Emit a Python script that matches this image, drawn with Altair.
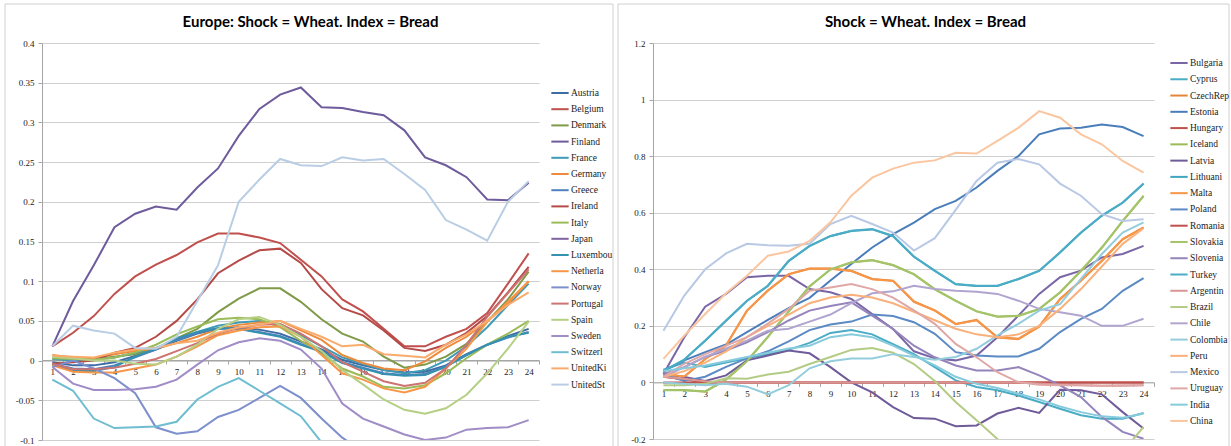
import altair as alt
import pandas as pd

periods = list(range(1, 25))

# ---- Europe: Shock = Wheat. Index = Bread ----
austria = [-0.002, -0.006, -0.006, -0.002, 0.006, 0.014, 0.025, 0.034, 0.040, 0.042, 0.039, 0.034, 0.024, 0.014, 0.001, -0.006, -0.012, -0.015, -0.014, -0.006, 0.008, 0.020, 0.031, 0.040]
belgium = [0.018, 0.035, 0.056, 0.084, 0.106, 0.121, 0.133, 0.149, 0.160, 0.160, 0.155, 0.148, 0.127, 0.106, 0.077, 0.062, 0.040, 0.018, 0.018, 0.030, 0.040, 0.060, 0.097, 0.135]
denmark = [0.003, 0.000, 0.002, 0.005, 0.008, 0.015, 0.028, 0.040, 0.061, 0.078, 0.091, 0.091, 0.074, 0.052, 0.034, 0.024, 0.005, -0.009, -0.005, 0.005, 0.021, 0.049, 0.077, 0.112]
finland = [0.018, 0.075, 0.120, 0.168, 0.185, 0.194, 0.190, 0.218, 0.242, 0.283, 0.317, 0.335, 0.344, 0.319, 0.318, 0.313, 0.309, 0.290, 0.256, 0.246, 0.231, 0.203, 0.202, 0.224]
france = [0.002, 0.000, 0.001, 0.004, 0.010, 0.016, 0.026, 0.036, 0.044, 0.048, 0.050, 0.046, 0.032, 0.018, 0.004, -0.004, -0.012, -0.016, -0.012, 0.000, 0.018, 0.042, 0.070, 0.097]
germany = [0.007, 0.004, 0.003, 0.008, 0.012, 0.015, 0.022, 0.030, 0.040, 0.045, 0.048, 0.050, 0.038, 0.026, 0.007, -0.003, -0.010, -0.012, -0.001, 0.016, 0.030, 0.050, 0.072, 0.100]
greece = [-0.004, -0.010, -0.011, -0.006, 0.004, 0.014, 0.026, 0.035, 0.040, 0.040, 0.036, 0.031, 0.021, 0.012, -0.002, -0.009, -0.016, -0.018, -0.017, -0.007, 0.007, 0.020, 0.029, 0.036]
ireland = [-0.004, -0.002, 0.000, 0.010, 0.016, 0.030, 0.050, 0.077, 0.110, 0.126, 0.139, 0.141, 0.123, 0.090, 0.066, 0.057, 0.038, 0.016, 0.012, 0.020, 0.035, 0.056, 0.086, 0.118]
italy = [0.003, 0.002, 0.001, 0.004, 0.010, 0.020, 0.033, 0.043, 0.052, 0.054, 0.052, 0.042, 0.025, 0.009, -0.010, -0.020, -0.033, -0.035, -0.031, -0.016, 0.003, 0.020, 0.034, 0.050]
japan = [-0.110, -0.120, -0.130, -0.140, -0.150, -0.160, -0.170, -0.180, -0.180, -0.180, -0.170, -0.170, -0.160, -0.160, -0.160, -0.150, -0.150, -0.150, -0.140, -0.140, -0.140, -0.130, -0.130, -0.130]
luxembou = [-0.005, -0.013, -0.013, -0.008, 0.005, 0.015, 0.028, 0.036, 0.041, 0.040, 0.035, 0.030, 0.020, 0.011, -0.003, -0.010, -0.017, -0.019, -0.018, -0.008, 0.007, 0.020, 0.030, 0.035]
netherla = [-0.006, -0.014, -0.015, -0.015, -0.010, -0.005, 0.005, 0.018, 0.032, 0.038, 0.042, 0.043, 0.030, 0.007, -0.016, -0.024, -0.035, -0.040, -0.033, -0.010, 0.015, 0.049, 0.074, 0.100]
norway = [-0.008, 0.000, -0.010, -0.022, -0.041, -0.084, -0.092, -0.089, -0.071, -0.062, -0.047, -0.032, -0.047, -0.073, -0.097, -0.115, -0.130, -0.140, -0.150, -0.150, -0.145, -0.140, -0.135, -0.130]
portugal = [-0.004, -0.011, -0.011, -0.009, -0.004, 0.002, 0.012, 0.022, 0.034, 0.041, 0.045, 0.046, 0.034, 0.018, -0.002, -0.014, -0.026, -0.032, -0.028, -0.010, 0.020, 0.055, 0.085, 0.115]
spain = [0.005, 0.003, 0.000, 0.000, -0.004, -0.005, 0.005, 0.020, 0.040, 0.052, 0.055, 0.045, 0.030, 0.012, -0.012, -0.030, -0.049, -0.062, -0.067, -0.060, -0.043, -0.016, 0.015, 0.049]
sweden = [-0.008, -0.029, -0.037, -0.037, -0.036, -0.033, -0.024, -0.005, 0.013, 0.023, 0.028, 0.025, 0.014, -0.010, -0.054, -0.073, -0.083, -0.093, -0.100, -0.097, -0.087, -0.085, -0.084, -0.075]
switzerl = [-0.024, -0.038, -0.073, -0.085, -0.084, -0.083, -0.077, -0.049, -0.033, -0.022, -0.038, -0.054, -0.070, -0.103, -0.130, -0.150, -0.160, -0.170, -0.170, -0.165, -0.160, -0.155, -0.150, -0.145]
unitedki = [0.006, 0.005, 0.004, 0.010, 0.014, 0.016, 0.022, 0.025, 0.035, 0.042, 0.045, 0.050, 0.040, 0.030, 0.018, 0.020, 0.008, 0.006, 0.004, 0.020, 0.033, 0.050, 0.070, 0.086]
unitedst = [0.018, 0.044, 0.038, 0.034, 0.016, 0.015, 0.030, 0.075, 0.120, 0.200, 0.228, 0.254, 0.246, 0.245, 0.256, 0.252, 0.254, 0.235, 0.215, 0.177, 0.165, 0.151, 0.200, 0.226]

europe_names = ["Austria", "Belgium", "Denmark", "Finland", "France", "Germany", "Greece",
                "Ireland", "Italy", "Japan", "Luxembou", "Netherla", "Norway", "Portugal",
                "Spain", "Sweden", "Switzerl", "UnitedKi", "UnitedSt"]
europe_series = [austria, belgium, denmark, finland, france, germany, greece, ireland, italy,
                 japan, luxembou, netherla, norway, portugal, spain, sweden, switzerl,
                 unitedki, unitedst]
europe_colors = ["#3d6ca3", "#c0504d", "#7f9a48", "#6e5b9c", "#3e9ab5", "#ec8b3e", "#4f81bd",
                 "#b54a47", "#9bbb59", "#8064a2", "#3591b0", "#f79646", "#7d8fcc", "#cd7371",
                 "#b5cf84", "#a08cc6", "#6fbdd1", "#f9ab6b", "#b9cde5"]

# ---- Shock = Wheat. Index = Bread (other countries) ----
bulgaria = [0.030, 0.160, 0.268, 0.313, 0.372, 0.377, 0.377, 0.330, 0.319, 0.295, 0.242, 0.189, 0.110, 0.085, 0.078, 0.095, 0.160, 0.236, 0.313, 0.372, 0.395, 0.442, 0.454, 0.483]
cyprus = [0.045, 0.070, 0.055, 0.070, 0.085, 0.100, 0.115, 0.140, 0.175, 0.185, 0.170, 0.135, 0.100, 0.054, 0.007, -0.016, -0.028, -0.046, -0.069, -0.093, -0.116, -0.128, -0.128, -0.108]
czechrep = [0.030, 0.020, 0.083, 0.131, 0.254, 0.325, 0.383, 0.403, 0.403, 0.395, 0.366, 0.360, 0.286, 0.255, 0.207, 0.221, 0.160, 0.154, 0.198, 0.295, 0.360, 0.430, 0.507, 0.548]
estonia = [0.040, 0.078, 0.107, 0.134, 0.178, 0.221, 0.263, 0.299, 0.360, 0.419, 0.477, 0.524, 0.565, 0.613, 0.642, 0.689, 0.748, 0.800, 0.877, 0.898, 0.900, 0.912, 0.903, 0.871]
hungary = [0.020, 0.010, 0.000, 0.000, 0.000, 0.000, 0.000, 0.000, 0.000, 0.000, 0.000, 0.000, 0.000, 0.000, 0.000, 0.000, 0.000, 0.000, 0.000, 0.000, 0.000, 0.000, 0.000, 0.000]
iceland = [-0.027, -0.027, -0.032, 0.011, 0.076, 0.161, 0.251, 0.339, 0.399, 0.424, 0.432, 0.414, 0.382, 0.329, 0.288, 0.251, 0.232, 0.235, 0.259, 0.318, 0.394, 0.476, 0.570, 0.659]
latvia = [0.030, 0.019, 0.005, 0.025, 0.078, 0.095, 0.113, 0.103, 0.054, 0.000, -0.035, -0.087, -0.126, -0.128, -0.155, -0.152, -0.110, -0.090, -0.108, -0.026, -0.028, -0.042, -0.105, -0.163]
lithuani = [0.041, 0.081, 0.147, 0.218, 0.288, 0.341, 0.429, 0.482, 0.517, 0.535, 0.541, 0.517, 0.444, 0.394, 0.347, 0.341, 0.341, 0.365, 0.394, 0.459, 0.529, 0.589, 0.635, 0.702]
malta = [0.029, 0.021, 0.082, 0.130, 0.253, 0.324, 0.382, 0.402, 0.402, 0.394, 0.365, 0.359, 0.285, 0.254, 0.206, 0.220, 0.159, 0.153, 0.197, 0.294, 0.359, 0.429, 0.506, 0.547]
poland = [0.028, 0.005, 0.020, 0.055, 0.085, 0.110, 0.145, 0.185, 0.205, 0.215, 0.240, 0.235, 0.213, 0.172, 0.107, 0.095, 0.092, 0.092, 0.119, 0.178, 0.225, 0.260, 0.324, 0.369]
romania = [0.000, 0.000, 0.000, 0.000, 0.000, 0.000, 0.000, 0.000, 0.000, 0.000, 0.000, 0.000, 0.000, 0.000, 0.000, 0.000, 0.000, 0.000, 0.000, 0.000, 0.000, 0.000, 0.000, 0.000]
slovakia = [-0.028, -0.028, -0.033, 0.010, 0.075, 0.160, 0.250, 0.340, 0.400, 0.425, 0.433, 0.415, 0.383, 0.330, 0.289, 0.252, 0.233, 0.236, 0.260, 0.319, 0.395, 0.477, 0.571, 0.660]
slovenia = [0.030, 0.054, 0.090, 0.113, 0.142, 0.178, 0.219, 0.254, 0.270, 0.283, 0.236, 0.189, 0.130, 0.089, 0.060, 0.042, 0.042, 0.054, 0.025, -0.010, -0.052, -0.122, -0.175, -0.199]
turkey = [0.040, 0.080, 0.148, 0.219, 0.289, 0.342, 0.430, 0.483, 0.518, 0.536, 0.542, 0.518, 0.445, 0.395, 0.348, 0.342, 0.342, 0.366, 0.395, 0.460, 0.530, 0.590, 0.636, 0.703]
argentin = [0.020, 0.012, 0.004, 0.000, 0.000, 0.000, 0.000, 0.000, 0.000, 0.000, 0.000, 0.000, 0.000, 0.000, 0.000, 0.000, 0.000, 0.000, -0.004, -0.008, -0.010, -0.012, -0.012, -0.010]
brazil = [-0.010, -0.010, -0.005, 0.015, 0.013, 0.028, 0.038, 0.065, 0.090, 0.115, 0.122, 0.105, 0.065, 0.005, -0.069, -0.134, -0.200, -0.250, -0.280, -0.300, -0.300, -0.280, -0.245, -0.157]
chile = [0.020, 0.054, 0.090, 0.120, 0.148, 0.183, 0.190, 0.215, 0.240, 0.280, 0.315, 0.322, 0.342, 0.330, 0.324, 0.321, 0.313, 0.289, 0.260, 0.248, 0.236, 0.200, 0.200, 0.225]
colombia = [0.000, -0.005, -0.010, -0.005, -0.015, -0.042, -0.010, 0.050, 0.075, 0.085, 0.085, 0.100, 0.090, 0.080, 0.090, 0.119, 0.166, 0.207, 0.254, 0.277, 0.366, 0.454, 0.530, 0.566]
peru = [0.020, 0.040, 0.070, 0.110, 0.160, 0.200, 0.240, 0.280, 0.300, 0.310, 0.300, 0.280, 0.250, 0.220, 0.190, 0.170, 0.160, 0.170, 0.200, 0.260, 0.330, 0.410, 0.490, 0.545]
mexico = [0.183, 0.307, 0.400, 0.456, 0.490, 0.485, 0.483, 0.490, 0.560, 0.589, 0.560, 0.530, 0.466, 0.510, 0.610, 0.712, 0.777, 0.790, 0.771, 0.703, 0.660, 0.595, 0.571, 0.577]
uruguay = [0.020, 0.066, 0.100, 0.130, 0.160, 0.208, 0.260, 0.324, 0.336, 0.348, 0.330, 0.300, 0.255, 0.207, 0.136, 0.089, 0.036, 0.001, -0.008, -0.010, -0.010, -0.012, -0.010, -0.010]
india = [0.040, 0.050, 0.060, 0.075, 0.090, 0.105, 0.120, 0.130, 0.160, 0.170, 0.160, 0.130, 0.095, 0.060, 0.020, -0.005, -0.020, -0.040, -0.060, -0.085, -0.105, -0.120, -0.125, -0.110]
china = [0.083, 0.166, 0.242, 0.315, 0.377, 0.448, 0.463, 0.500, 0.566, 0.660, 0.724, 0.756, 0.777, 0.785, 0.812, 0.809, 0.854, 0.900, 0.959, 0.936, 0.877, 0.842, 0.783, 0.742]

world_names = ["Bulgaria", "Cyprus", "CzechRep", "Estonia", "Hungary", "Iceland", "Latvia",
               "Lithuani", "Malta", "Poland", "Romania", "Slovakia", "Slovenia", "Turkey",
               "Argentin", "Brazil", "Chile", "Colombia", "Peru", "Mexico", "Uruguay",
               "India", "China"]
world_series = [bulgaria, cyprus, czechrep, estonia, hungary, iceland, latvia, lithuani, malta,
                poland, romania, slovakia, slovenia, turkey, argentin, brazil, chile, colombia,
                peru, mexico, uruguay, india, china]
world_colors = ["#7a66a6", "#4bacc6", "#e4853a", "#4a7ebb", "#c0504d", "#9bbb59", "#6f5a9a",
                "#41a5c0", "#f79646", "#5b8ac4", "#c0504d", "#a4c46a", "#9484bb", "#4bacc6",
                "#d99694", "#b3cb85", "#b1a5cf", "#93cddd", "#f9b07a", "#b9c8e4", "#dfa7a6",
                "#86cbdc", "#fac6a0"]

SERIF = "Liberation Serif"
GRID = "#cfcfcf"
AXIS_LINE = "#a6a6a6"
FRAME = "#d0d0d0"
TEXT = "#222222"


def long_table(names, series, key):
    rows = []
    for name, values in zip(names, series):
        for t, v in zip(periods, values):
            rows.append({key: name, "period": t, "value": v})
    return pd.DataFrame(rows)


def frame(left, right, top, bottom):
    # light border round the whole chart area (left, top and right edges)
    one = alt.Chart(pd.DataFrame({"k": [0]}))
    style = dict(color=FRAME, strokeWidth=1)
    return alt.layer(
        one.mark_rule(**style).encode(x=alt.value(left), y=alt.value(top), y2=alt.value(bottom)),
        one.mark_rule(**style).encode(x=alt.value(right), y=alt.value(top), y2=alt.value(bottom)),
        one.mark_rule(**style).encode(x=alt.value(left), x2=alt.value(right), y=alt.value(top)),
    )


def heading(text, x_center):
    one = alt.Chart(pd.DataFrame({"k": [0]}))
    return one.mark_text(text=text, font="Lato", fontSize=15, fontWeight="bold",
                         color="#000000", align="center", baseline="alphabetic").encode(
        x=alt.value(x_center), y=alt.value(-16))


def panel(names, series, colors, key, title, title_dx, y_domain, y_ticks, width, height,
          zero_shift, legend_x, legend_y, row_gap, border):
    table = long_table(names, series, key)
    x = alt.X(
        "period:O",
        sort=periods,
        scale=alt.Scale(type="band", paddingInner=0, paddingOuter=0),
        axis=alt.Axis(title=None, labelAngle=0, offset=-zero_shift, tickBand="extent",
                      domainColor=AXIS_LINE, tickColor=AXIS_LINE, tickSize=4, labelPadding=3,
                      labelFont=SERIF, labelFontSize=9, labelColor=TEXT, grid=False),
    )
    y = alt.Y(
        "value:Q",
        scale=alt.Scale(domain=y_domain, nice=False, zero=False),
        axis=alt.Axis(title=None, values=y_ticks, labelExpr="'' + datum.value", grid=True,
                      gridColor=GRID, domainColor=AXIS_LINE, tickColor=AXIS_LINE, tickSize=4,
                      labelPadding=4, labelFont=SERIF, labelFontSize=9, labelColor=TEXT),
    )
    color = alt.Color(
        f"{key}:N",
        sort=names,
        scale=alt.Scale(domain=names, range=colors),
        legend=alt.Legend(orient="none", legendX=legend_x, legendY=legend_y, title=None,
                          symbolType="stroke", symbolSize=300, symbolStrokeWidth=2,
                          rowPadding=row_gap, labelFont=SERIF, labelFontSize=9.5,
                          labelColor=TEXT, labelOffset=1, padding=0),
    )
    lines = alt.Chart(table).mark_line(strokeWidth=2, clip=True).encode(
        x=x, y=y, color=color, order=alt.Order("period:O"))
    return alt.layer(lines, frame(*border), heading(title, width / 2 + title_dx)).properties(
        width=width, height=height)


left = panel(europe_names, europe_series, europe_colors, "europe",
             "Europe: Shock = Wheat. Index = Bread", 20,
             [-0.1, 0.4], [-0.1, -0.05, 0, 0.05, 0.1, 0.15, 0.2, 0.25, 0.3, 0.35, 0.4],
             497, 397, 80, 508, 40, 1.2, (-37, 571, -39, 404))

right = panel(world_names, world_series, world_colors, "country",
              "Shock = Wheat. Index = Bread", 22,
              [-0.2, 1.2], [-0.2, 0, 0.2, 0.4, 0.6, 0.8, 1, 1.2],
              501, 396, 56.6, 516, 10, 1.27, (-35, 576, -39, 404))

chart = alt.hconcat(left, right, spacing=114, bounds="flush").resolve_scale(
    color="independent", y="independent"
).properties(
    padding={"left": 4, "top": 3, "right": 0, "bottom": 0},
    background="white",
).configure_view(stroke=None)

chart.save("out.html", embed_options={"renderer": "svg", "actions": False})
